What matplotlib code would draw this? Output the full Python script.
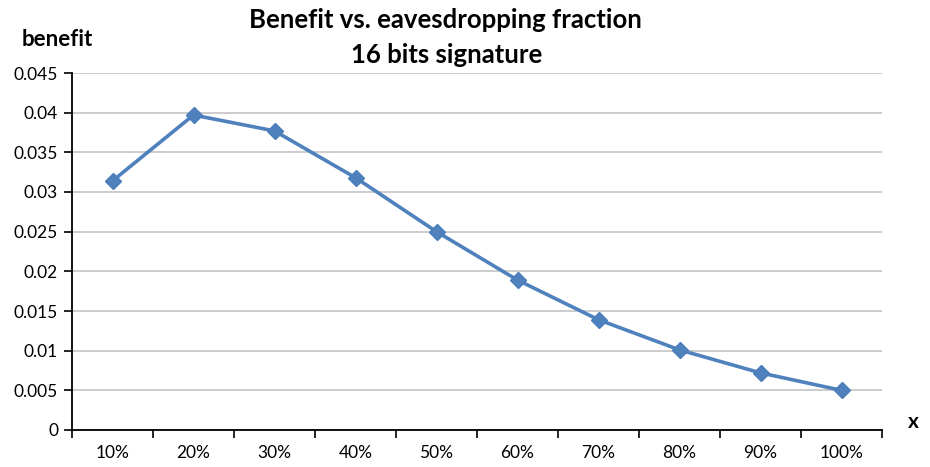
import matplotlib.pyplot as plt
import numpy as np

plt.rcParams['font.family'] = ['Lato', 'DejaVu Sans']

# benefit per eavesdropping fraction, 16 bit signature
categories = ['10%', '20%', '30%', '40%', '50%', '60%', '70%', '80%', '90%', '100%']
benefit = [0.0314, 0.0397, 0.0377, 0.0318, 0.0250, 0.0189, 0.0139, 0.0101, 0.0072, 0.0050]
yticks = [0, 0.005, 0.01, 0.015, 0.02, 0.025, 0.03, 0.035, 0.04, 0.045]
ytick_labels = ['0', '0.005', '0.01', '0.015', '0.02', '0.025', '0.03', '0.035', '0.04', '0.045']

fig = plt.figure(figsize=(9.3, 4.67), dpi=100)
ax = fig.add_axes([72/930, 37/467, 810/930, 357/467])

x = np.arange(len(categories))
ax.plot(x, benefit, '-D', color='#4F81BD', lw=2.6, markersize=8.5,
        markerfacecolor='#4F81BD', markeredgecolor='#4A7EBB', zorder=3)

ax.set_xlim(-0.5, len(categories) - 0.5)
ax.set_ylim(0, 0.045)
ax.set_yticks(yticks)
ax.set_yticklabels(ytick_labels, fontsize=12.5)
ax.yaxis.grid(True, color='#BFBFBF', lw=1.1)
ax.set_axisbelow(True)

# category labels centred, tick marks between categories
ax.set_xticks(x)
ax.set_xticklabels(categories, fontsize=12.5)
ax.tick_params(axis='x', length=0, pad=11)
ax.set_xticks(np.arange(-0.5, len(categories)), minor=True)
ax.tick_params(axis='x', which='minor', length=6, width=1.2, direction='out')
ax.tick_params(axis='y', length=6, width=1.2, direction='out', pad=4)

for side in ['top', 'right']:
    ax.spines[side].set_visible(False)
for side in ['left', 'bottom']:
    ax.spines[side].set_linewidth(1.3)

fig.text(445/930, 1 - 20/467, 'Benefit vs. eavesdropping fraction', ha='center', va='center',
         fontsize=18.5, fontweight='bold')
fig.text(447/930, 1 - 55/467, '16 bits signature', ha='center', va='center',
         fontsize=18.5, fontweight='bold')
fig.text(22/930, 1 - 39/467, 'benefit', ha='left', va='center', fontsize=16, fontweight='bold')
fig.text(913/930, 1 - 422/467, 'x', ha='center', va='center', fontsize=15, fontweight='bold')

fig.savefig('out.png', dpi=100)
